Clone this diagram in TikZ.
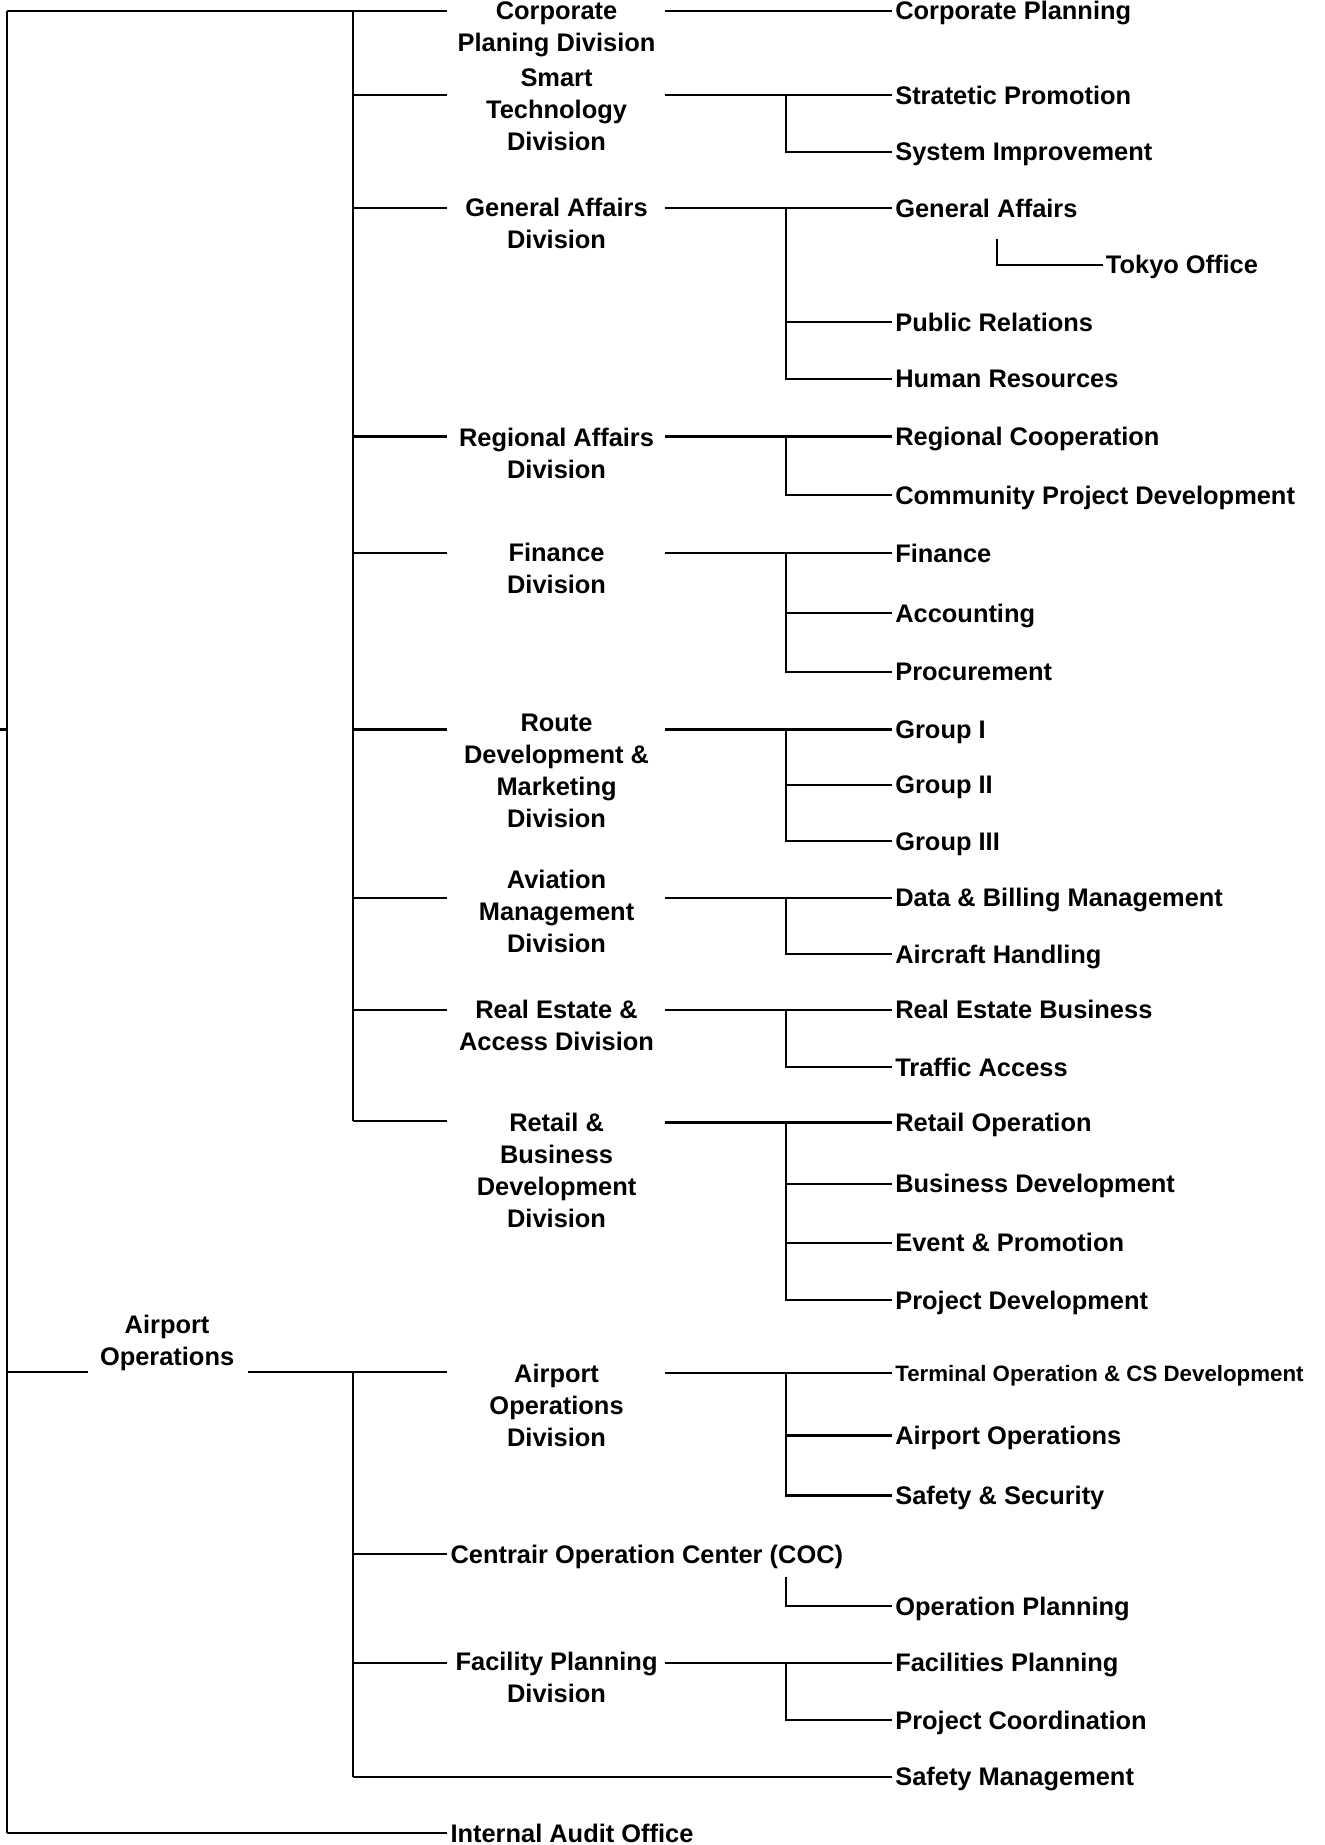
\documentclass[tikz,border=0pt]{standalone}
\usepackage{fontspec}
\setmainfont{Liberation Sans}
\begin{document}
\begin{tikzpicture}[x=0.5pt,y=-0.5pt,line width=0.9pt,
 lbl/.style={font=\bfseries\fontsize{10.8pt}{13.6pt}\selectfont, inner sep=0pt},
 div/.style={lbl, align=center, anchor=north},
 dept/.style={lbl, anchor=west, inner xsep=1pt, text height=7.73pt, text depth=0pt},
 deptsmall/.style={dept, font=\bfseries\fontsize{9.47pt}{11pt}\selectfont, text height=6.78pt}]
\useasboundingbox (0,0) rectangle (1126,1568);

% ---------- division / top level labels ----------
\node[div] (cpdiv) at (473,0.8) {Corporate\\Planing Division};
\node[div] (stdiv) at (473,57.8) {Smart\\Technology\\Division};
\node[div] (gadiv) at (473,167.5) {General Affairs\\Division};
\node[div] (radiv) at (473,362.8) {Regional Affairs\\Division};
\node[div] (fidiv) at (473,460.8) {Finance\\Division};
\node[div] (rmdiv) at (473,605.8) {Route\\Development \&\\Marketing\\Division};
\node[div] (amdiv) at (473,738.8) {Aviation\\Management\\Division};
\node[div] (readiv) at (473,848.8) {Real Estate \&\\Access Division};
\node[div] (rbdiv) at (473,944.8) {Retail \&\\Business\\Development\\Division};
\node[div] (aoTop) at (142,1116.8) {Airport\\Operations};
\node[div] (aodiv) at (473,1158) {Airport\\Operations\\Division};
\node[dept] (coc) at (380,1321) {Centrair Operation Center (COC)};
\node[div] (fpdiv) at (473,1403) {Facility Planning\\Division};
\node[dept] (iao) at (380,1558) {Internal Audit Office};

% ---------- departments ----------
\node[dept] (cp) at (758,9) {Corporate Planning};
\node[dept] (sp) at (758,81) {Stratetic Promotion};
\node[dept] (si) at (758,129) {System Improvement};
\node[dept] (ga) at (758,177) {General Affairs};
\node[dept] (to) at (937,225) {Tokyo Office};
\node[dept] (pr) at (758,274) {Public Relations};
\node[dept] (hr) at (758,322) {Human Resources};
\node[dept] (rc) at (758,371) {Regional Cooperation};
\node[dept] (cpd) at (758,421) {Community Project Development};
\node[dept] (fin) at (758,470) {Finance};
\node[dept] (acc) at (758,521) {Accounting};
\node[dept] (proc) at (758,571) {Procurement};
\node[dept] (g1) at (758,620) {Group I};
\node[dept] (g2) at (758,667) {Group II};
\node[dept] (g3) at (758,715) {Group III};
\node[dept] (dbm) at (758,763) {Data \& Billing Management};
\node[dept] (ah) at (758,811) {Aircraft Handling};
\node[dept] (reb) at (758,858) {Real Estate Business};
\node[dept] (ta) at (758,907) {Traffic Access};
\node[dept] (ro) at (758,954) {Retail Operation};
\node[dept] (bd) at (758,1006) {Business Development};
\node[dept] (ep) at (758,1056) {Event \& Promotion};
\node[dept] (pd) at (758,1105) {Project Development};
\node[deptsmall] (toc) at (758,1167) {Terminal Operation \& CS Development};
\node[dept] (ao) at (758,1220) {Airport Operations};
\node[dept] (ss) at (758,1271) {Safety \& Security};
\node[dept] (op) at (758,1365) {Operation Planning};
\node[dept] (fp) at (758,1413) {Facilities Planning};
\node[dept] (pc) at (758,1462) {Project Coordination};
\node[dept] (sm) at (758,1510) {Safety Management};

% ---------- spine ----------
\coordinate (spT) at (6,9);
\coordinate (spB) at (6,1558);
\coordinate (stub) at (0,620);
\draw (spT) -- (spB);
\draw (stub) -- (stub -| spT);
\draw (spB) -- (iao.west);
\draw (spT) -- (380,9);
\draw (6,1166) -- (75,1166);
\draw (211,1166) -- (380,1166);

% ---------- upper division bus ----------
\coordinate (ubT) at (300,9);
\coordinate (ubB) at (300,953);
\draw (ubT) -- (ubB);
\foreach \yy in {81,177,371,470,620,763,858,953}
  \draw (300,\yy) -- (380,\yy);

% ---------- lower division bus ----------
\coordinate (lbT) at (300,1166);
\coordinate (lbB) at (300,1510);
\draw (lbT) -- (lbB);
\draw (300,1321) -- (coc.west);
\draw (300,1413) -- (380,1413);
\draw (lbB) -- (sm.west);

% ---------- division to departments ----------
\draw (565,9) -- (cp.west);

\draw (565,81) -- (sp.west);
\draw (668,81) |- (si.west);

\draw (565,177) -- (ga.west);
\draw (668,177) |- (pr.west);
\draw (668,177) |- (hr.west);
\draw (847,203) |- (to.west);

\draw (565,371) -- (rc.west);
\draw (668,371) |- (cpd.west);

\draw (565,470) -- (fin.west);
\draw (668,470) |- (acc.west);
\draw (668,470) |- (proc.west);

\draw (565,620) -- (g1.west);
\draw (668,620) |- (g2.west);
\draw (668,620) |- (g3.west);

\draw (565,763) -- (dbm.west);
\draw (668,763) |- (ah.west);

\draw (565,858) -- (reb.west);
\draw (668,858) |- (ta.west);

\draw (565,954) -- (ro.west);
\draw (668,954) |- (bd.west);
\draw (668,954) |- (ep.west);
\draw (668,954) |- (pd.west);

\draw (565,1167) -- (toc.west);
\draw (668,1167) |- (ao.west);
\draw (668,1167) |- (ss.west);

\draw (668,1340) |- (op.west);

\draw (565,1413) -- (fp.west);
\draw (668,1413) |- (pc.west);
\end{tikzpicture}
\end{document}
